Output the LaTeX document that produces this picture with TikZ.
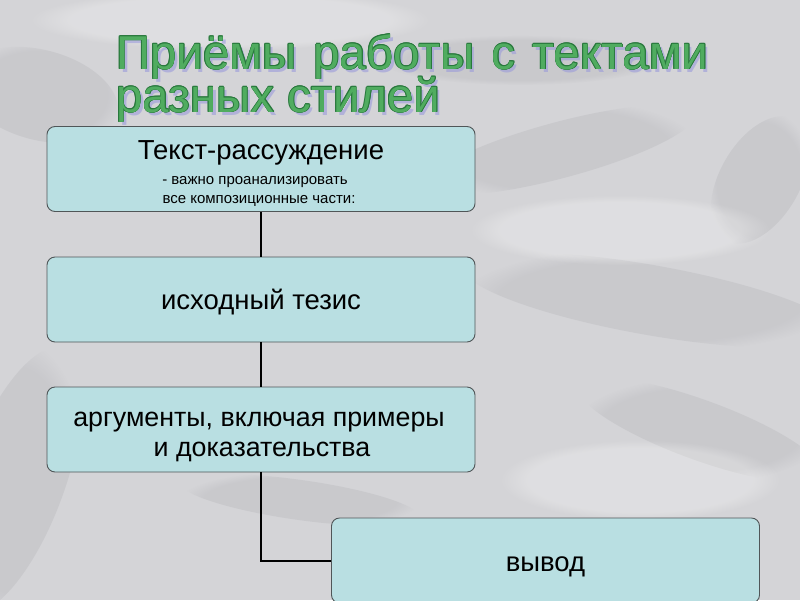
\documentclass[tikz,border=0pt]{standalone}
\usepackage{fontspec}
\setmainfont{Liberation Sans}
\newfontfamily\titlefont{Liberation Sans}
\usetikzlibrary{fadings,calc}
\definecolor{boxfill}{RGB}{185,223,226}
\definecolor{boxline}{RGB}{80,86,88}
\definecolor{titlegreen}{RGB}{80,172,96}
\definecolor{titledark}{RGB}{40,120,60}
\definecolor{titleshadow}{RGB}{150,150,220}
\definecolor{bgmarble}{RGB}{212,212,215}
\definecolor{vein}{RGB}{140,140,146}
\tikzset{
  stepbox/.style={draw=boxline, line width=0.9pt, fill=boxfill, rounded corners=8pt,
    inner sep=0pt, minimum width=428pt, minimum height=85pt},
  boxtxt/.style={anchor=base, inner sep=0pt, font=\fontsize{27.5}{32}\selectfont},
  smalltxt/.style={anchor=base, inner sep=0pt, font=\fontsize{15}{18}\selectfont},
  link/.style={draw=black, line width=2pt},
  titletxt/.style={anchor=base west, inner sep=0pt, font=\titlefont\fontsize{47.5}{52}\selectfont},
  blotch/.style={fill=vein, opacity=0.15, path fading=circle with fuzzy edge 20 percent},
  glow/.style={fill=white, opacity=0.25, path fading=circle with fuzzy edge 20 percent}
}
\newcommand{\ttline}[3]{%
  \node[titletxt, text=titleshadow, opacity=0.55] at ($(#1)+(3,3)$) {#3};
  \foreach \ang in {0,45,...,315}{
    \node[titletxt, text=titledark] at ($(#1)+(\ang:0.6)$) {#3};
  }
  \node[titletxt, text=titlegreen] (#2) at (#1) {#3};
}
\begin{document}
\begin{tikzpicture}[x=1pt,y=-1pt]
\useasboundingbox (0,0) rectangle (800,600);
\fill[bgmarble] (0,0) rectangle (800,600);
% soft marble shading
\fill[blotch, rotate around={-15:(40,95)}] (40,95) ellipse (80 and 45);
\fill[blotch, rotate around={70:(15,480)}] (15,480) ellipse (140 and 50);
\fill[blotch, rotate around={-10:(650,300)}] (650,300) ellipse (190 and 35);
\fill[blotch, rotate around={15:(560,150)}] (560,150) ellipse (140 and 28);
\fill[blotch, rotate around={-20:(700,430)}] (700,430) ellipse (130 and 30);
\fill[blotch] (520,60) ellipse (140 and 25);
\fill[blotch, rotate around={60:(760,180)}] (760,180) ellipse (70 and 40);
\fill[blotch, rotate around={-8:(300,500)}] (300,500) ellipse (120 and 20);
\fill[glow] (230,20) ellipse (200 and 30);
\fill[glow] (640,480) ellipse (140 and 40);
\fill[glow] (620,230) ellipse (150 and 35);

\coordinate (t1) at (116,69);
\coordinate (t2) at (116,112);
\ttline{t1}{title1}{Приёмы\hspace{17pt}работы\hspace{17pt}с\hspace{17pt}тектами}
\ttline{t2}{title2}{разных стилей}

\node[stepbox] (b1) at (261,169) {};
\node[stepbox] (b2) at (261,299.5) {};
\node[stepbox] (b3) at (261,429.5) {};
\node[stepbox] (b4) at (545.5,560.5) {};

\node[boxtxt] (b1t) at (261,159) {Текст-рассуждение};
\node[smalltxt] (b1s1) at (255,184) {- важно проанализировать};
\node[smalltxt] (b1s2) at (259,203.5) {все композиционные части:};
\node[boxtxt] (b2t) at (261,309) {исходный тезис};
\node[boxtxt, font=\fontsize{26.8}{31}\selectfont] (b3t1) at (259,426) {аргументы, включая примеры};
\node[boxtxt, font=\fontsize{26.8}{31}\selectfont] (b3t2) at (262,456) {и доказательства};
\node[boxtxt] (b4t) at (545.5,571) {вывод};

\draw[link] (b1.south) -- (b2.north);
\draw[link] (b2.south) -- (b3.north);
\draw[link] (b3.south) |- (b4.west);
\end{tikzpicture}
\end{document}
